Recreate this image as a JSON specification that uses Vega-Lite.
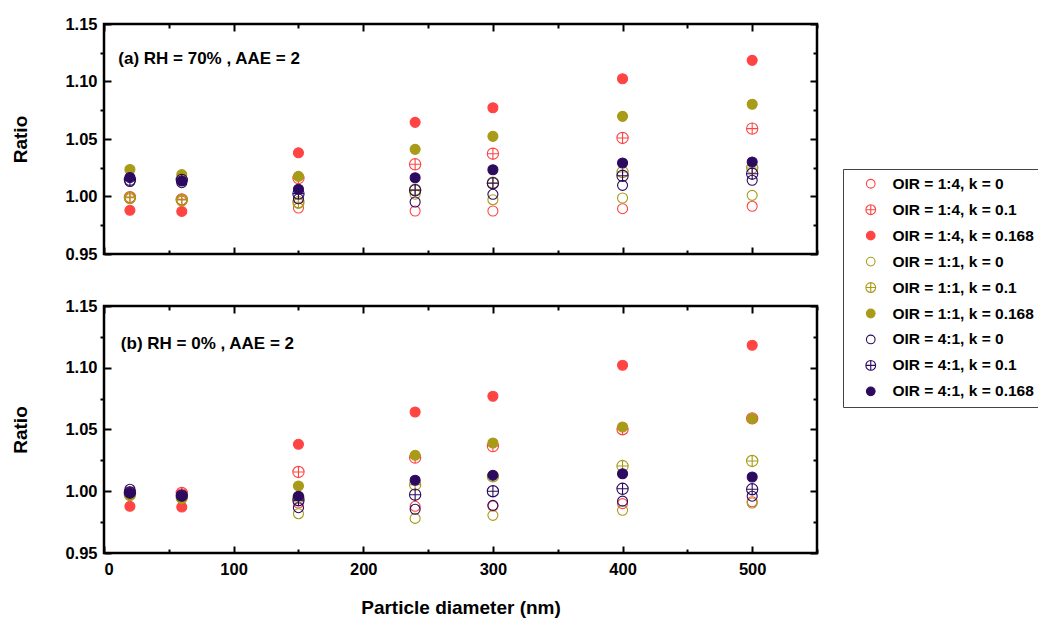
{
  "$schema": "https://vega.github.io/schema/vega-lite/v6.json",
  "padding": {"left": 10, "top": 14, "right": 0, "bottom": 0},
  "background": "white",
  "config": {
    "font": "Liberation Sans",
    "view": {"stroke": "black", "strokeWidth": 2.5},
    "axis": {"grid": false, "domain": false, "labelFont": "Liberation Sans", "labelFontWeight": "bold", "labelFontSize": 16.5, "labelColor": "black", "tickColor": "black", "tickWidth": 2, "titleFont": "Liberation Sans", "titleFontWeight": "bold", "titleFontSize": 19, "titleColor": "black"},
    "legend": {"labelFont": "Liberation Sans", "labelFontWeight": "bold", "labelFontSize": 15.5, "labelColor": "black", "symbolSize": 75, "symbolStrokeWidth": 1.1, "rowPadding": 8.95, "padding": 7, "symbolOffset": 13, "labelOffset": 14, "strokeColor": "#444", "labelLimit": 300}
  },
  "datasets": {
    "pts": [
      {"p":"a","d":20,"s":"OIR = 1:4, k = 0","r":0.999},{"p":"a","d":60,"s":"OIR = 1:4, k = 0","r":0.997},{"p":"a","d":150,"s":"OIR = 1:4, k = 0","r":0.990},{"p":"a","d":240,"s":"OIR = 1:4, k = 0","r":0.9874},{"p":"a","d":300,"s":"OIR = 1:4, k = 0","r":0.9874},{"p":"a","d":400,"s":"OIR = 1:4, k = 0","r":0.9894},{"p":"a","d":500,"s":"OIR = 1:4, k = 0","r":0.9915},
      {"p":"a","d":20,"s":"OIR = 1:4, k = 0.1","r":0.9995},{"p":"a","d":60,"s":"OIR = 1:4, k = 0.1","r":0.9975},{"p":"a","d":150,"s":"OIR = 1:4, k = 0.1","r":1.016},{"p":"a","d":240,"s":"OIR = 1:4, k = 0.1","r":1.028},{"p":"a","d":300,"s":"OIR = 1:4, k = 0.1","r":1.0372},{"p":"a","d":400,"s":"OIR = 1:4, k = 0.1","r":1.0509},{"p":"a","d":500,"s":"OIR = 1:4, k = 0.1","r":1.059},
      {"p":"a","d":20,"s":"OIR = 1:4, k = 0.168","r":0.988},{"p":"a","d":60,"s":"OIR = 1:4, k = 0.168","r":0.987},{"p":"a","d":150,"s":"OIR = 1:4, k = 0.168","r":1.038},{"p":"a","d":240,"s":"OIR = 1:4, k = 0.168","r":1.0645},{"p":"a","d":300,"s":"OIR = 1:4, k = 0.168","r":1.0772},{"p":"a","d":400,"s":"OIR = 1:4, k = 0.168","r":1.1024},{"p":"a","d":500,"s":"OIR = 1:4, k = 0.168","r":1.1184},
      {"p":"a","d":20,"s":"OIR = 1:1, k = 0","r":0.998},{"p":"a","d":60,"s":"OIR = 1:1, k = 0","r":0.996},{"p":"a","d":150,"s":"OIR = 1:1, k = 0","r":0.994},{"p":"a","d":240,"s":"OIR = 1:1, k = 0","r":1.002},{"p":"a","d":300,"s":"OIR = 1:1, k = 0","r":0.9972},{"p":"a","d":400,"s":"OIR = 1:1, k = 0","r":0.9987},{"p":"a","d":500,"s":"OIR = 1:1, k = 0","r":1.001},
      {"p":"a","d":20,"s":"OIR = 1:1, k = 0.1","r":0.999},{"p":"a","d":60,"s":"OIR = 1:1, k = 0.1","r":0.997},{"p":"a","d":150,"s":"OIR = 1:1, k = 0.1","r":0.995},{"p":"a","d":240,"s":"OIR = 1:1, k = 0.1","r":1.006},{"p":"a","d":300,"s":"OIR = 1:1, k = 0.1","r":1.012},{"p":"a","d":400,"s":"OIR = 1:1, k = 0.1","r":1.0213},{"p":"a","d":500,"s":"OIR = 1:1, k = 0.1","r":1.0248},
      {"p":"a","d":20,"s":"OIR = 1:1, k = 0.168","r":1.0235},{"p":"a","d":60,"s":"OIR = 1:1, k = 0.168","r":1.019},{"p":"a","d":150,"s":"OIR = 1:1, k = 0.168","r":1.0175},{"p":"a","d":240,"s":"OIR = 1:1, k = 0.168","r":1.041},{"p":"a","d":300,"s":"OIR = 1:1, k = 0.168","r":1.0523},{"p":"a","d":400,"s":"OIR = 1:1, k = 0.168","r":1.0697},{"p":"a","d":500,"s":"OIR = 1:1, k = 0.168","r":1.0802},
      {"p":"a","d":20,"s":"OIR = 4:1, k = 0","r":1.013},{"p":"a","d":60,"s":"OIR = 4:1, k = 0","r":1.012},{"p":"a","d":150,"s":"OIR = 4:1, k = 0","r":0.998},{"p":"a","d":240,"s":"OIR = 4:1, k = 0","r":0.9952},{"p":"a","d":300,"s":"OIR = 4:1, k = 0","r":1.0019},{"p":"a","d":400,"s":"OIR = 4:1, k = 0","r":1.0097},{"p":"a","d":500,"s":"OIR = 4:1, k = 0","r":1.0141},
      {"p":"a","d":20,"s":"OIR = 4:1, k = 0.1","r":1.0145},{"p":"a","d":60,"s":"OIR = 4:1, k = 0.1","r":1.0145},{"p":"a","d":150,"s":"OIR = 4:1, k = 0.1","r":1.0025},{"p":"a","d":240,"s":"OIR = 4:1, k = 0.1","r":1.0054},{"p":"a","d":300,"s":"OIR = 4:1, k = 0.1","r":1.0115},{"p":"a","d":400,"s":"OIR = 4:1, k = 0.1","r":1.018},{"p":"a","d":500,"s":"OIR = 4:1, k = 0.1","r":1.0198},
      {"p":"a","d":20,"s":"OIR = 4:1, k = 0.168","r":1.0165},{"p":"a","d":60,"s":"OIR = 4:1, k = 0.168","r":1.0135},{"p":"a","d":150,"s":"OIR = 4:1, k = 0.168","r":1.0063},{"p":"a","d":240,"s":"OIR = 4:1, k = 0.168","r":1.0163},{"p":"a","d":300,"s":"OIR = 4:1, k = 0.168","r":1.0233},{"p":"a","d":400,"s":"OIR = 4:1, k = 0.168","r":1.0291},{"p":"a","d":500,"s":"OIR = 4:1, k = 0.168","r":1.030},
      {"p":"b","d":20,"s":"OIR = 1:4, k = 0","r":0.998},{"p":"b","d":60,"s":"OIR = 1:4, k = 0","r":0.998},{"p":"b","d":150,"s":"OIR = 1:4, k = 0","r":0.9905},{"p":"b","d":240,"s":"OIR = 1:4, k = 0","r":0.9878},{"p":"b","d":300,"s":"OIR = 1:4, k = 0","r":0.988},{"p":"b","d":400,"s":"OIR = 1:4, k = 0","r":0.990},{"p":"b","d":500,"s":"OIR = 1:4, k = 0","r":0.9915},
      {"p":"b","d":20,"s":"OIR = 1:4, k = 0.1","r":0.999},{"p":"b","d":60,"s":"OIR = 1:4, k = 0.1","r":0.9986},{"p":"b","d":150,"s":"OIR = 1:4, k = 0.1","r":1.0156},{"p":"b","d":240,"s":"OIR = 1:4, k = 0.1","r":1.0272},{"p":"b","d":300,"s":"OIR = 1:4, k = 0.1","r":1.0366},{"p":"b","d":400,"s":"OIR = 1:4, k = 0.1","r":1.0502},{"p":"b","d":500,"s":"OIR = 1:4, k = 0.1","r":1.059},
      {"p":"b","d":20,"s":"OIR = 1:4, k = 0.168","r":0.9878},{"p":"b","d":60,"s":"OIR = 1:4, k = 0.168","r":0.9872},{"p":"b","d":150,"s":"OIR = 1:4, k = 0.168","r":1.038},{"p":"b","d":240,"s":"OIR = 1:4, k = 0.168","r":1.0642},{"p":"b","d":300,"s":"OIR = 1:4, k = 0.168","r":1.0769},{"p":"b","d":400,"s":"OIR = 1:4, k = 0.168","r":1.102},{"p":"b","d":500,"s":"OIR = 1:4, k = 0.168","r":1.1182},
      {"p":"b","d":20,"s":"OIR = 1:1, k = 0","r":0.997},{"p":"b","d":60,"s":"OIR = 1:1, k = 0","r":0.995},{"p":"b","d":150,"s":"OIR = 1:1, k = 0","r":0.9818},{"p":"b","d":240,"s":"OIR = 1:1, k = 0","r":0.978},{"p":"b","d":300,"s":"OIR = 1:1, k = 0","r":0.9805},{"p":"b","d":400,"s":"OIR = 1:1, k = 0","r":0.9846},{"p":"b","d":500,"s":"OIR = 1:1, k = 0","r":0.9905},
      {"p":"b","d":20,"s":"OIR = 1:1, k = 0.1","r":0.997},{"p":"b","d":60,"s":"OIR = 1:1, k = 0.1","r":0.995},{"p":"b","d":150,"s":"OIR = 1:1, k = 0.1","r":0.995},{"p":"b","d":240,"s":"OIR = 1:1, k = 0.1","r":1.0053},{"p":"b","d":300,"s":"OIR = 1:1, k = 0.1","r":1.012},{"p":"b","d":400,"s":"OIR = 1:1, k = 0.1","r":1.0204},{"p":"b","d":500,"s":"OIR = 1:1, k = 0.1","r":1.0245},
      {"p":"b","d":20,"s":"OIR = 1:1, k = 0.168","r":0.997},{"p":"b","d":60,"s":"OIR = 1:1, k = 0.168","r":0.994},{"p":"b","d":150,"s":"OIR = 1:1, k = 0.168","r":1.0043},{"p":"b","d":240,"s":"OIR = 1:1, k = 0.168","r":1.0291},{"p":"b","d":300,"s":"OIR = 1:1, k = 0.168","r":1.0391},{"p":"b","d":400,"s":"OIR = 1:1, k = 0.168","r":1.052},{"p":"b","d":500,"s":"OIR = 1:1, k = 0.168","r":1.0588},
      {"p":"b","d":20,"s":"OIR = 4:1, k = 0","r":1.0016},{"p":"b","d":60,"s":"OIR = 4:1, k = 0","r":0.997},{"p":"b","d":150,"s":"OIR = 4:1, k = 0","r":0.9867},{"p":"b","d":240,"s":"OIR = 4:1, k = 0","r":0.9854},{"p":"b","d":300,"s":"OIR = 4:1, k = 0","r":0.9886},{"p":"b","d":400,"s":"OIR = 4:1, k = 0","r":0.992},{"p":"b","d":500,"s":"OIR = 4:1, k = 0","r":0.996},
      {"p":"b","d":20,"s":"OIR = 4:1, k = 0.1","r":0.999},{"p":"b","d":60,"s":"OIR = 4:1, k = 0.1","r":0.9965},{"p":"b","d":150,"s":"OIR = 4:1, k = 0.1","r":0.9927},{"p":"b","d":240,"s":"OIR = 4:1, k = 0.1","r":0.9972},{"p":"b","d":300,"s":"OIR = 4:1, k = 0.1","r":1.0},{"p":"b","d":400,"s":"OIR = 4:1, k = 0.1","r":1.002},{"p":"b","d":500,"s":"OIR = 4:1, k = 0.1","r":1.0016},
      {"p":"b","d":20,"s":"OIR = 4:1, k = 0.168","r":0.9986},{"p":"b","d":60,"s":"OIR = 4:1, k = 0.168","r":0.9962},{"p":"b","d":150,"s":"OIR = 4:1, k = 0.168","r":0.996},{"p":"b","d":240,"s":"OIR = 4:1, k = 0.168","r":1.0089},{"p":"b","d":300,"s":"OIR = 4:1, k = 0.168","r":1.0129},{"p":"b","d":400,"s":"OIR = 4:1, k = 0.168","r":1.0142},{"p":"b","d":500,"s":"OIR = 4:1, k = 0.168","r":1.0115}
    ],
    "notes": [
      {"p":"a","d":11,"r":1.1198,"label":"(a) RH = 70% , AAE = 2"},
      {"p":"b","d":13,"r":1.1195,"label":"(b) RH = 0% , AAE = 2"}
    ]
  },
  "data": {"name": "pts"},
  "spacing": 32,
  "vconcat": [
    {
      "width": 713, "height": 230,
      "transform": [{"filter": "datum.p === 'a'"}],
      "resolve": {"axis": {"x": "independent", "y": "independent"}},
      "layer": [
        {
          "mark": {"type": "point", "opacity": 0},
          "encoding": {
            "x": {"field": "d", "type": "quantitative", "scale": {"domain": [0, 550], "nice": false, "zero": false}, "axis": {"orient": "bottom", "values": [50,150,250,350,450,550], "labels": false, "tickSize": -4, "title": null}},
            "y": {"field": "r", "type": "quantitative", "scale": {"domain": [0.95, 1.15], "nice": false, "zero": false}, "axis": {"orient": "left", "values": [0.975,1.025,1.075,1.125], "labels": false, "tickSize": 4, "title": null}}
          }
        },
        {
          "mark": {"type": "point", "opacity": 0},
          "encoding": {
            "x": {"field": "d", "type": "quantitative", "scale": {"domain": [0, 550], "nice": false, "zero": false}, "axis": {"orient": "top", "values": [0,100,200,300,400,500], "labels": false, "tickSize": -7, "title": null}},
            "y": {"field": "r", "type": "quantitative", "scale": {"domain": [0.95, 1.15], "nice": false, "zero": false}, "axis": {"orient": "right", "values": [0.95,1,1.05,1.1,1.15], "labels": false, "tickSize": -7, "title": null}}
          }
        },
        {
          "mark": {"type": "point", "opacity": 0},
          "encoding": {
            "x": {"field": "d", "type": "quantitative", "scale": {"domain": [0, 550], "nice": false, "zero": false}, "axis": {"orient": "top", "values": [50,150,250,350,450,550], "labels": false, "tickSize": -4, "title": null}},
            "y": {"field": "r", "type": "quantitative", "scale": {"domain": [0.95, 1.15], "nice": false, "zero": false}, "axis": {"orient": "right", "values": [0.975,1.025,1.075,1.125], "labels": false, "tickSize": -4, "title": null}}
          }
        },
        {
          "data": {"name": "notes"},
          "transform": [{"filter": "datum.p === 'a'"}],
          "mark": {"type": "text", "align": "left", "baseline": "middle", "font": "Liberation Sans", "fontWeight": "bold", "fontSize": 17, "color": "black"},
          "encoding": {
            "x": {"field": "d", "type": "quantitative", "scale": {"domain": [0, 550], "nice": false, "zero": false}, "axis": null},
            "y": {"field": "r", "type": "quantitative", "scale": {"domain": [0.95, 1.15], "nice": false, "zero": false}, "axis": null},
            "text": {"field": "label"}
          }
        },
        {
          "mark": {"type": "point", "filled": true, "size": 100, "strokeWidth": 1.1, "opacity": 1},
          "encoding": {
            "x": {"field": "d", "type": "quantitative", "scale": {"domain": [0, 550], "nice": false, "zero": false}, "axis": {"orient": "bottom", "values": [0,100,200,300,400,500], "labels": false, "tickSize": -7, "title": null}},
            "y": {"field": "r", "type": "quantitative", "scale": {"domain": [0.95, 1.15], "nice": false, "zero": false}, "axis": {"orient": "left", "values": [0.95,1,1.05,1.1,1.15], "format": ".2f", "tickSize": -7, "labelPadding": 14, "title": "Ratio", "titlePadding": 34}},
            "stroke": {"field": "s", "type": "nominal", "scale": {"domain": ["OIR = 1:4, k = 0","OIR = 1:4, k = 0.1","OIR = 1:4, k = 0.168","OIR = 1:1, k = 0","OIR = 1:1, k = 0.1","OIR = 1:1, k = 0.168","OIR = 4:1, k = 0","OIR = 4:1, k = 0.1","OIR = 4:1, k = 0.168"], "range": ["#ff4444","#ff4444","#ff4444","#a89b18","#a89b18","#a89b18","#2c0a60","#2c0a60","#2c0a60"]}, "legend": {"title": null, "orient": "none", "legendX": 739, "legendY": 145}},
            "fill": {"field": "s", "type": "nominal", "scale": {"domain": ["OIR = 1:4, k = 0","OIR = 1:4, k = 0.1","OIR = 1:4, k = 0.168","OIR = 1:1, k = 0","OIR = 1:1, k = 0.1","OIR = 1:1, k = 0.168","OIR = 4:1, k = 0","OIR = 4:1, k = 0.1","OIR = 4:1, k = 0.168"], "range": ["transparent","transparent","#ff4444","transparent","transparent","#a89b18","transparent","transparent","#2c0a60"]}, "legend": {"title": null, "orient": "none", "legendX": 739, "legendY": 145}},
            "shape": {"field": "s", "type": "nominal", "scale": {"domain": ["OIR = 1:4, k = 0","OIR = 1:4, k = 0.1","OIR = 1:4, k = 0.168","OIR = 1:1, k = 0","OIR = 1:1, k = 0.1","OIR = 1:1, k = 0.168","OIR = 4:1, k = 0","OIR = 4:1, k = 0.1","OIR = 4:1, k = 0.168"], "range": ["circle","M-1.128,0A1.128,1.128,0,1,1,1.128,0A1.128,1.128,0,1,1,-1.128,0M-1.128,0L1.128,0M0,-1.128L0,1.128","circle","circle","M-1.128,0A1.128,1.128,0,1,1,1.128,0A1.128,1.128,0,1,1,-1.128,0M-1.128,0L1.128,0M0,-1.128L0,1.128","circle","circle","M-1.128,0A1.128,1.128,0,1,1,1.128,0A1.128,1.128,0,1,1,-1.128,0M-1.128,0L1.128,0M0,-1.128L0,1.128","circle"]}, "legend": {"title": null, "orient": "none", "legendX": 739, "legendY": 145}}
          }
        }
      ]
    },
    {
      "width": 713, "height": 247,
      "transform": [{"filter": "datum.p === 'b'"}],
      "resolve": {"axis": {"x": "independent", "y": "independent"}},
      "layer": [
        {
          "mark": {"type": "point", "opacity": 0},
          "encoding": {
            "x": {"field": "d", "type": "quantitative", "scale": {"domain": [0, 550], "nice": false, "zero": false}, "axis": {"orient": "bottom", "values": [50,150,250,350,450,550], "labels": false, "tickSize": -4, "title": null}},
            "y": {"field": "r", "type": "quantitative", "scale": {"domain": [0.95, 1.15], "nice": false, "zero": false}, "axis": {"orient": "left", "values": [0.975,1.025,1.075,1.125], "labels": false, "tickSize": 4, "title": null}}
          }
        },
        {
          "mark": {"type": "point", "opacity": 0},
          "encoding": {
            "x": {"field": "d", "type": "quantitative", "scale": {"domain": [0, 550], "nice": false, "zero": false}, "axis": {"orient": "top", "values": [0,100,200,300,400,500], "labels": false, "tickSize": -7, "title": null}},
            "y": {"field": "r", "type": "quantitative", "scale": {"domain": [0.95, 1.15], "nice": false, "zero": false}, "axis": {"orient": "right", "values": [0.95,1,1.05,1.1,1.15], "labels": false, "tickSize": -7, "title": null}}
          }
        },
        {
          "mark": {"type": "point", "opacity": 0},
          "encoding": {
            "x": {"field": "d", "type": "quantitative", "scale": {"domain": [0, 550], "nice": false, "zero": false}, "axis": {"orient": "top", "values": [50,150,250,350,450,550], "labels": false, "tickSize": -4, "title": null}},
            "y": {"field": "r", "type": "quantitative", "scale": {"domain": [0.95, 1.15], "nice": false, "zero": false}, "axis": {"orient": "right", "values": [0.975,1.025,1.075,1.125], "labels": false, "tickSize": -4, "title": null}}
          }
        },
        {
          "data": {"name": "notes"},
          "transform": [{"filter": "datum.p === 'b'"}],
          "mark": {"type": "text", "align": "left", "baseline": "middle", "font": "Liberation Sans", "fontWeight": "bold", "fontSize": 17, "color": "black"},
          "encoding": {
            "x": {"field": "d", "type": "quantitative", "scale": {"domain": [0, 550], "nice": false, "zero": false}, "axis": null},
            "y": {"field": "r", "type": "quantitative", "scale": {"domain": [0.95, 1.15], "nice": false, "zero": false}, "axis": null},
            "text": {"field": "label"}
          }
        },
        {
          "mark": {"type": "point", "filled": true, "size": 100, "strokeWidth": 1.1, "opacity": 1},
          "encoding": {
            "x": {"field": "d", "type": "quantitative", "scale": {"domain": [0, 550], "nice": false, "zero": false}, "axis": {"orient": "bottom", "values": [0,100,200,300,400,500], "tickSize": -7, "labelPadding": 15, "title": "Particle diameter (nm)", "titlePadding": 21}},
            "y": {"field": "r", "type": "quantitative", "scale": {"domain": [0.95, 1.15], "nice": false, "zero": false}, "axis": {"orient": "left", "values": [0.95,1,1.05,1.1,1.15], "format": ".2f", "tickSize": -7, "labelPadding": 14, "title": "Ratio", "titlePadding": 34}},
            "stroke": {"field": "s", "type": "nominal", "scale": {"domain": ["OIR = 1:4, k = 0","OIR = 1:4, k = 0.1","OIR = 1:4, k = 0.168","OIR = 1:1, k = 0","OIR = 1:1, k = 0.1","OIR = 1:1, k = 0.168","OIR = 4:1, k = 0","OIR = 4:1, k = 0.1","OIR = 4:1, k = 0.168"], "range": ["#ff4444","#ff4444","#ff4444","#a89b18","#a89b18","#a89b18","#2c0a60","#2c0a60","#2c0a60"]}, "legend": {"title": null, "orient": "none", "legendX": 739, "legendY": 145}},
            "fill": {"field": "s", "type": "nominal", "scale": {"domain": ["OIR = 1:4, k = 0","OIR = 1:4, k = 0.1","OIR = 1:4, k = 0.168","OIR = 1:1, k = 0","OIR = 1:1, k = 0.1","OIR = 1:1, k = 0.168","OIR = 4:1, k = 0","OIR = 4:1, k = 0.1","OIR = 4:1, k = 0.168"], "range": ["transparent","transparent","#ff4444","transparent","transparent","#a89b18","transparent","transparent","#2c0a60"]}, "legend": {"title": null, "orient": "none", "legendX": 739, "legendY": 145}},
            "shape": {"field": "s", "type": "nominal", "scale": {"domain": ["OIR = 1:4, k = 0","OIR = 1:4, k = 0.1","OIR = 1:4, k = 0.168","OIR = 1:1, k = 0","OIR = 1:1, k = 0.1","OIR = 1:1, k = 0.168","OIR = 4:1, k = 0","OIR = 4:1, k = 0.1","OIR = 4:1, k = 0.168"], "range": ["circle","M-1.128,0A1.128,1.128,0,1,1,1.128,0A1.128,1.128,0,1,1,-1.128,0M-1.128,0L1.128,0M0,-1.128L0,1.128","circle","circle","M-1.128,0A1.128,1.128,0,1,1,1.128,0A1.128,1.128,0,1,1,-1.128,0M-1.128,0L1.128,0M0,-1.128L0,1.128","circle","circle","M-1.128,0A1.128,1.128,0,1,1,1.128,0A1.128,1.128,0,1,1,-1.128,0M-1.128,0L1.128,0M0,-1.128L0,1.128","circle"]}, "legend": {"title": null, "orient": "none", "legendX": 739, "legendY": 145}}
          }
        }
      ]
    }
  ]
}
